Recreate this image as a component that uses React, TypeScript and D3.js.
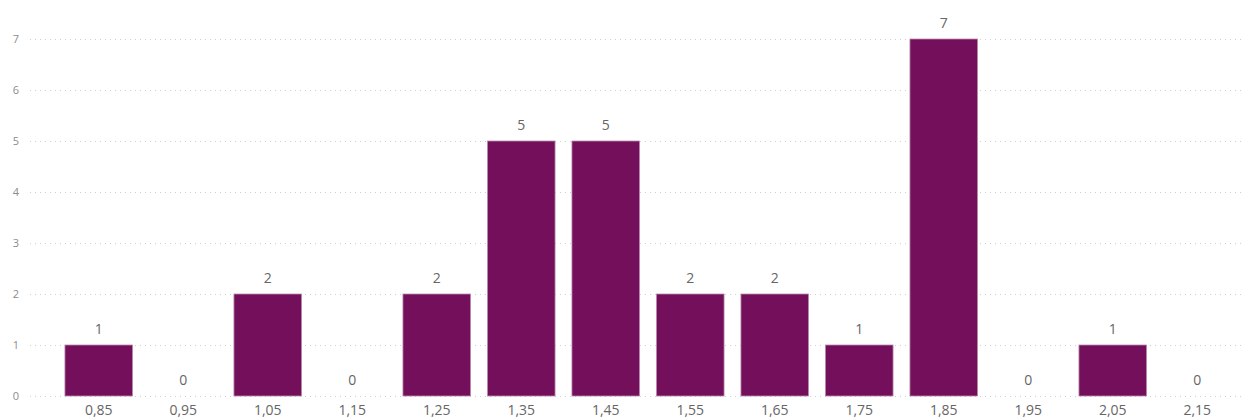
import React, { useEffect, useRef } from 'react';
import * as d3 from 'd3';

const categories = ['0,85', '0,95', '1,05', '1,15', '1,25', '1,35', '1,45', '1,55', '1,65', '1,75', '1,85', '1,95', '2,05', '2,15'];
const counts = [1, 0, 2, 0, 2, 5, 5, 2, 2, 1, 7, 0, 1, 0];
const yTicks = [0, 1, 2, 3, 4, 5, 6, 7];

const W = 1245;
const H = 418;

const App = () => {
  const ref = useRef<SVGSVGElement | null>(null);

  useEffect(() => {
    const svg = d3.select(ref.current);
    svg.selectAll('*').remove();

    const x = d3.scaleBand<string>()
      .domain(categories)
      .range([56.5, 1239.5])
      .paddingInner(0.2)
      .paddingOuter(0.1);

    const y = d3.scaleLinear().domain([0, 7]).range([396, 39]);

    const font = '"Open Sans", "Noto Sans", sans-serif';

    // grid
    svg.append('g')
      .selectAll('line')
      .data(yTicks)
      .enter()
      .append('line')
      .attr('x1', 30)
      .attr('x2', W)
      .attr('y1', d => y(d) + 0.5)
      .attr('y2', d => y(d) + 0.5)
      .attr('stroke', '#cfcfcf')
      .attr('stroke-width', 1)
      .attr('stroke-dasharray', '1,4');

    svg.append('g')
      .selectAll('text')
      .data(yTicks)
      .enter()
      .append('text')
      .attr('x', 16)
      .attr('y', d => y(d))
      .attr('dy', '0.35em')
      .attr('text-anchor', 'middle')
      .attr('font-family', font)
      .attr('font-size', 11)
      .attr('fill', '#8c8c8c')
      .text(d => d);

    const bars = svg.append('g');
    bars.selectAll('rect')
      .data(counts)
      .enter()
      .append('rect')
      .attr('x', (d, i) => x(categories[i])!)
      .attr('y', d => y(d))
      .attr('width', x.bandwidth())
      .attr('height', d => y(0) - y(d))
      .attr('fill', '#740f5b')
      .attr('stroke', '#b98aad')
      .attr('stroke-width', d => (d > 0 ? 0.8 : 0));

    svg.append('g')
      .selectAll('text')
      .data(counts)
      .enter()
      .append('text')
      .attr('x', (d, i) => x(categories[i])! + x.bandwidth() / 2)
      .attr('y', d => y(d) - 11)
      .attr('text-anchor', 'middle')
      .attr('font-family', font)
      .attr('font-size', 14)
      .attr('fill', '#666666')
      .text(d => d);

    svg.append('g')
      .selectAll('text')
      .data(categories)
      .enter()
      .append('text')
      .attr('x', d => x(d)! + x.bandwidth() / 2)
      .attr('y', 415)
      .attr('text-anchor', 'middle')
      .attr('font-family', font)
      .attr('font-size', 14)
      .attr('fill', '#666666')
      .text(d => d);
  }, []);

  return (
    <svg
      ref={ref}
      width={W}
      height={H}
      style={{ position: 'absolute', left: 0, top: 0, background: '#fff' }}
    />
  );
};

export default App;
